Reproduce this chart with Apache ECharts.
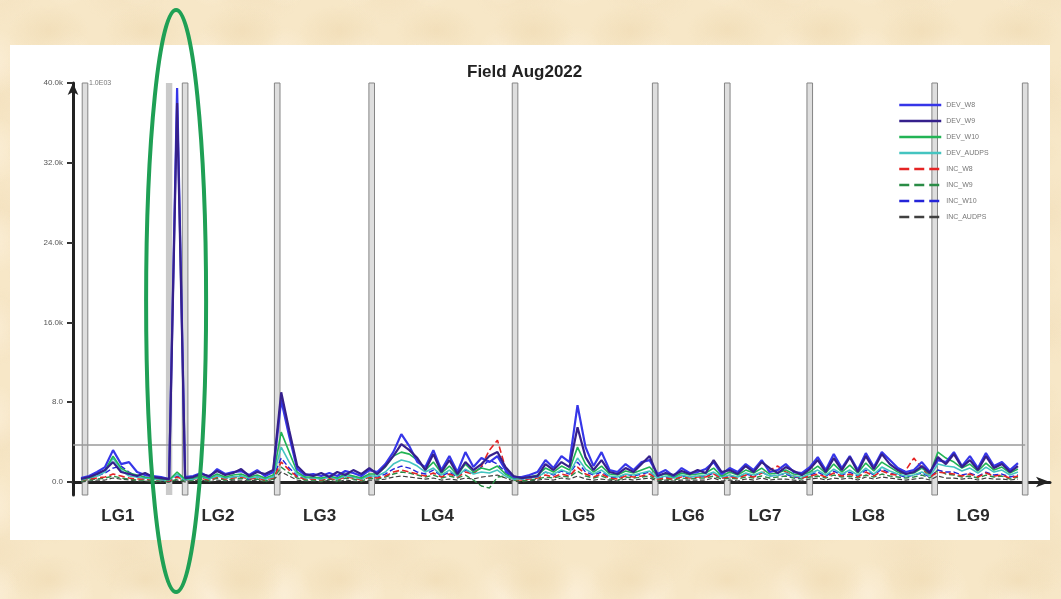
<!DOCTYPE html>
<html><head><meta charset="utf-8">
<script src="https://cdn.jsdelivr.net/npm/echarts@6/dist/echarts.min.js"></script>
<style>
html,body{margin:0;padding:0;width:1061px;height:599px;overflow:hidden;
background-color:#f7e7c7;
background-image:radial-gradient(ellipse at center,#f2dfba 0%,transparent 60%),radial-gradient(ellipse at center,#fbeed6 0%,transparent 55%),radial-gradient(ellipse at center,#f4e2c0 0%,transparent 50%);
background-size:97px 61px,73px 89px,131px 113px;background-position:0 0,29px 17px,61px 43px;}
#panel{position:absolute;left:10px;top:45px;width:1040px;height:495px;background:#fff;}
#chart{position:absolute;left:0;top:0;width:1061px;height:599px;}
</style></head>
<body>
<div id="panel"></div>
<div id="chart"></div>
<script>
// ---- data ----
const seriesNames = ['DEV_W8','DEV_W9','DEV_W10','DEV_AUDPS','INC_W8','INC_W9','INC_W10','INC_AUDPS'];
const groupNames = ['LG1','LG2','LG3','LG4','LG5','LG6','LG7','LG8','LG9'];
const groupLabelPos = [5.6,18.1,30.8,45.5,63.1,76.8,86.4,99.3,112.4];
const separators = [1.5,14.0,25.5,37.3,55.2,72.7,81.7,92.0,107.6,118.9];
const shadedBand = [11.6,12.4];
const thresholdValue = 3.7;
const yTicks = [0,8,16,24,32,40];
const yTickLabels = ['0.0','8.0','16.0k','24.0k','32.0k','40.0k'];
const xStart = 1;

const DEV_W8 = [0.4,0.6,1.0,1.5,3.2,1.8,2.0,1.0,0.7,0.6,0.5,
 0.3,39.5,0.5,
 0.6,0.9,0.5,1.3,0.8,1.0,1.1,0.7,1.2,0.6,1.0,
 8.2,4.6,1.3,0.7,0.8,0.6,0.9,0.6,1.1,0.9,0.6,1.2,
 1.0,1.8,3.0,4.8,3.6,2.0,1.5,3.2,1.2,2.6,1.0,3.0,1.5,2.4,2.0,2.6,1.2,0.5,
 0.5,0.7,1.0,2.2,1.4,2.6,2.0,7.7,3.5,1.6,3.0,1.2,1.0,1.8,1.2,2.0,2.2,
 0.8,1.2,0.6,1.4,0.9,1.0,1.3,2.0,0.8,
 1.4,1.0,1.8,1.2,2.2,1.0,1.2,1.8,1.0,0.9,1.5,
 2.5,1.2,2.8,1.4,2.6,1.2,2.9,1.5,3.0,2.2,1.4,1.0,1.2,2.0,1.0,
 2.2,2.0,3.0,1.6,2.6,1.4,2.9,1.6,2.0,1.2,1.9];
const DEV_W9 = [0.3,0.5,0.8,1.2,2.0,1.0,0.8,0.6,0.9,0.5,0.4,
 0.3,38.0,0.4,
 0.5,0.8,0.6,1.1,0.7,0.9,1.3,0.6,1.0,0.8,1.2,
 9.0,5.2,1.6,0.8,0.6,0.9,0.5,1.0,0.7,1.2,0.8,1.4,
 0.8,1.6,2.6,3.8,3.2,2.4,1.2,2.8,1.0,2.2,0.8,2.0,1.2,1.8,2.6,3.0,1.5,0.6,
 0.4,0.5,0.6,1.8,1.2,2.0,1.5,5.5,2.5,1.2,2.2,1.0,0.8,1.4,1.0,1.8,2.6,
 0.6,0.9,0.7,1.1,0.8,1.2,0.9,2.2,1.0,
 1.2,0.8,1.6,1.0,2.0,1.4,0.9,1.5,1.1,0.7,1.3,
 2.2,1.0,2.4,1.2,2.5,1.0,2.6,1.3,2.8,1.8,1.2,0.8,1.0,1.6,0.9,
 2.5,1.8,2.8,1.5,2.2,1.2,2.6,1.4,1.8,1.0,1.6];
const DEV_W10 = [0.3,0.4,0.8,1.2,2.6,1.4,0.9,0.7,0.5,0.4,0.3,
 0.2,1.0,0.3,
 0.4,0.6,0.4,0.8,0.5,0.7,0.8,0.5,0.7,0.4,0.7,
 5.0,3.0,1.0,0.5,0.5,0.4,0.6,0.4,0.8,0.6,0.4,0.8,
 0.8,1.5,2.6,3.0,2.8,2.2,1.2,2.0,0.9,1.6,0.7,1.8,1.0,1.4,1.2,1.6,0.8,0.4,
 0.4,0.5,0.7,1.4,1.0,1.6,1.2,3.5,1.8,1.0,1.6,0.8,0.7,1.1,0.9,1.2,1.5,
 0.6,0.8,0.5,0.9,0.7,0.8,0.9,1.4,0.6,
 1.0,0.7,1.2,0.9,1.4,0.8,0.9,1.2,0.8,0.7,1.0,
 1.6,0.9,1.8,1.0,1.7,0.9,1.9,1.1,2.0,1.5,1.0,0.8,0.9,1.4,0.8,
 3.0,2.4,2.0,1.4,1.8,1.1,1.9,1.2,1.5,0.9,1.3];
const DEV_AUDPS = [0.2,0.4,0.6,1.0,2.4,1.2,0.6,0.5,0.4,0.3,0.2,
 0.2,0.8,0.2,
 0.3,0.5,0.3,0.6,0.4,0.5,0.6,0.4,0.5,0.3,0.5,
 3.5,2.0,0.8,0.4,0.4,0.3,0.5,0.3,0.6,0.5,0.3,0.6,
 0.6,1.0,1.8,2.2,2.0,1.6,1.0,1.4,0.7,1.2,0.6,1.3,0.8,1.0,0.9,1.2,0.6,0.3,
 0.3,0.4,0.5,1.0,0.8,1.2,0.9,2.4,1.3,0.8,1.2,0.6,0.5,0.8,0.7,0.9,1.1,
 0.4,0.6,0.4,0.7,0.5,0.6,0.7,1.0,0.5,
 0.7,0.5,0.9,0.7,1.0,0.6,0.7,0.9,0.6,0.5,0.8,
 1.2,0.7,1.3,0.8,1.2,0.7,1.4,0.8,1.5,1.1,0.8,0.6,0.7,1.0,0.6,
 1.8,1.6,1.5,1.1,1.4,0.9,1.5,1.0,1.2,0.7,1.0];
const INC_W8 = [0.2,0.3,0.4,0.5,0.8,0.6,0.4,0.3,0.3,0.2,0.2,
 0.1,0.5,0.2,
 0.3,0.4,0.2,0.5,0.3,0.4,0.5,0.3,0.4,0.2,0.4,
 2.0,1.2,0.5,0.3,0.3,0.2,0.4,0.2,0.5,0.4,0.2,0.5,
 0.4,0.6,1.0,1.2,1.0,0.8,0.6,0.9,0.5,0.8,0.5,1.0,0.8,1.6,3.2,4.2,1.4,0.3,
 0.2,0.3,0.4,0.7,0.5,0.8,0.6,1.5,0.8,0.5,0.8,0.4,0.3,0.6,0.5,0.6,0.8,
 0.3,0.4,0.3,0.5,0.4,0.5,0.5,0.8,0.4,
 0.5,0.4,0.7,0.5,0.9,1.2,1.6,1.0,0.6,0.4,0.6,
 0.8,0.5,0.9,0.6,0.8,0.5,1.0,0.6,1.1,0.8,0.7,1.2,2.4,1.4,0.5,
 1.0,0.9,0.8,0.6,0.8,0.5,0.9,0.6,0.7,0.4,0.6];
const INC_W9 = [0.1,0.2,0.3,0.4,0.6,0.4,0.3,0.2,0.2,0.1,0.1,
 0.0,0.3,0.1,
 0.2,0.3,0.1,0.4,0.2,0.3,0.4,0.2,0.3,0.1,0.3,
 1.5,0.9,0.4,0.2,0.2,0.1,0.3,0.1,0.4,0.3,0.1,0.4,
 0.3,0.5,0.8,1.0,0.9,0.7,0.5,0.7,0.4,0.6,0.4,0.7,0.2,-0.4,-0.6,0.5,0.6,0.2,
 0.1,0.2,0.3,0.5,0.4,0.6,0.5,1.1,0.6,0.4,0.6,0.3,0.2,0.5,0.4,0.5,0.6,
 0.2,0.3,0.2,0.4,0.3,0.4,0.4,0.6,0.3,
 0.4,0.3,0.5,0.4,0.6,0.4,0.5,0.6,0.4,0.3,0.5,
 0.6,0.4,0.7,0.5,0.6,0.4,0.7,0.5,0.8,0.6,0.5,0.4,0.5,0.7,0.4,
 1.2,0.8,0.7,0.5,0.6,0.4,0.7,0.5,0.6,0.3,0.5];
const INC_W10 = [0.3,0.4,0.6,0.9,1.4,1.6,1.0,0.5,0.4,0.3,0.2,
 0.1,0.6,0.2,
 0.3,0.5,0.3,0.6,0.4,0.5,0.6,0.3,0.5,0.3,0.5,
 2.4,1.4,0.6,0.4,0.4,0.3,0.5,0.3,0.6,0.5,0.3,0.6,
 0.5,0.8,1.3,1.6,1.4,1.0,0.8,1.2,0.6,1.0,0.5,1.2,0.9,1.5,2.2,1.8,1.0,0.3,
 0.3,0.4,0.6,1.0,0.7,1.1,0.8,2.0,1.0,0.7,1.0,0.5,0.4,0.8,0.6,0.8,1.0,
 0.4,0.5,0.4,0.6,0.5,0.6,0.6,0.9,0.4,
 0.6,0.5,0.8,0.6,1.0,0.6,0.7,0.8,0.5,0.4,0.7,
 1.0,0.6,1.1,0.7,1.0,0.6,1.2,0.7,1.3,0.9,0.7,0.5,0.7,0.9,0.5,
 1.2,1.0,1.0,0.7,0.9,0.6,1.0,0.7,0.8,0.5,0.7];
const INC_AUDPS = [0.0,0.1,0.2,0.2,0.4,0.3,0.2,0.1,0.1,0.0,0.0,
 0.0,0.2,0.0,
 0.1,0.2,0.0,0.2,0.1,0.2,0.2,0.1,0.2,0.0,0.2,
 1.0,0.6,0.2,0.1,0.1,0.0,0.2,0.0,0.2,0.1,0.0,0.2,
 0.2,0.3,0.5,0.6,0.5,0.4,0.3,0.4,0.2,0.3,0.2,0.4,0.3,0.5,0.6,0.7,0.4,0.1,
 0.0,0.1,0.2,0.3,0.2,0.4,0.3,0.6,0.3,0.2,0.3,0.2,0.1,0.3,0.2,0.3,0.4,
 0.1,0.2,0.1,0.2,0.2,0.2,0.2,0.4,0.1,
 0.2,0.1,0.3,0.2,0.4,0.2,0.3,0.3,0.2,0.1,0.3,
 0.4,0.2,0.4,0.3,0.4,0.2,0.5,0.3,0.5,0.4,0.3,0.2,0.3,0.4,0.2,
 0.6,0.4,0.4,0.3,0.4,0.2,0.4,0.3,0.3,0.2,0.3];

// ---- chart ----
const valuesByName = {DEV_W8,DEV_W9,DEV_W10,DEV_AUDPS,INC_W8,INC_W9,INC_W10,INC_AUDPS};
const styleByName = {
  DEV_W8:{color:'#3636e8',width:2.2,type:'solid'},
  DEV_W9:{color:'#35208c',width:2.2,type:'solid'},
  DEV_W10:{color:'#22b455',width:1.6,type:'solid'},
  DEV_AUDPS:{color:'#44c4c0',width:1.6,type:'solid'},
  INC_W8:{color:'#e52424',width:1.6,type:'dashed'},
  INC_W9:{color:'#2a8c46',width:1.4,type:'dashed'},
  INC_W10:{color:'#2424d8',width:1.4,type:'dashed'},
  INC_AUDPS:{color:'#404040',width:1.2,type:'dashed'}
};
const drawOrder = ['INC_AUDPS','INC_W9','INC_W10','INC_W8','DEV_AUDPS','DEV_W10','DEV_W8','DEV_W9'];
const font = 'Liberation Sans, Arial, sans-serif';

const series = drawOrder.map(n => ({
  name:n, type:'line', symbol:'none', animation:false,
  color: styleByName[n].color,
  lineStyle:{color:styleByName[n].color,width:styleByName[n].width,type:styleByName[n].type},
  data: valuesByName[n].map((v,i)=>[i+xStart,v]),
  z: 3
}));
series.unshift({
  name:'limit', type:'line', symbol:'none', silent:true, animation:false,
  lineStyle:{color:'#9a9a9a',width:1.5},
  data:[[0,thresholdValue],[separators[separators.length-1],thresholdValue]],
  markArea:{silent:true,
    data: separators.map(s=>[{xAxis:s-0.35,itemStyle:{color:'#dedede',borderColor:'#858585',borderWidth:1}},{xAxis:s+0.35}])
      .concat([[{xAxis:shadedBand[0],itemStyle:{color:'#cacaca',borderWidth:0}},{xAxis:shadedBand[1]}]])
  },
  z: 2
});

const chart = echarts.init(document.getElementById('chart'), null, {renderer:'canvas'});
chart.setOption({
  backgroundColor:'transparent',
  animation:false,
  title:{text:'Field Aug2022', left:462, top:59,
    textStyle:{fontFamily:font,fontSize:17,fontWeight:'bold',color:'#222'}},
  legend:{data:seriesNames, orient:'vertical', left:893, top:96,
    itemWidth:42, itemHeight:10, itemGap:8,
    itemStyle:{opacity:0},
    lineStyle:{width:2.5},
    textStyle:{fontFamily:font,fontSize:7,color:'#777'}},
  grid:{left:73,right:11,top:83,bottom:104},
  xAxis:{type:'value', min:0, max:122,
    axisLine:{show:true, symbol:['none','arrow'], symbolSize:[8,14], lineStyle:{color:'#222',width:3}},
    axisTick:{show:false}, splitLine:{show:false},
    axisLabel:{customValues:groupLabelPos, formatter:v=>groupNames[groupLabelPos.indexOf(v)],
      fontFamily:font,fontSize:17,fontWeight:'bold',color:'#2a2a2a',margin:13}},
  yAxis:{type:'value', min:-1.3, max:40,
    axisLine:{show:true, symbol:['none','arrow'], symbolSize:[8,12], lineStyle:{color:'#222',width:3}},
    axisTick:{show:true, customValues:yTicks, length:6, lineStyle:{color:'#333',width:2}},
    splitLine:{show:false},
    axisLabel:{customValues:yTicks, formatter:v=>yTickLabels[yTicks.indexOf(v)],
      fontFamily:font,fontSize:8,color:'#555',margin:10},
    name:'1.0E03', nameLocation:'end', nameGap:0,
    nameTextStyle:{fontFamily:font,fontSize:7,color:'#777',align:'left',verticalAlign:'middle',padding:[0,0,0,16]}},
  series: series
});

// annotation ellipse around the spike between LG1 and LG2
const spikeIdx = DEV_W8.indexOf(Math.max(...DEV_W8)) + xStart;
const cx = chart.convertToPixel({xAxisIndex:0}, spikeIdx);
chart.setOption({graphic:[{type:'ellipse', shape:{cx:cx-1, cy:301, rx:30, ry:291},
  style:{fill:'none', stroke:'#1fa055', lineWidth:4}, z:100}]});
</script>
</body></html>
